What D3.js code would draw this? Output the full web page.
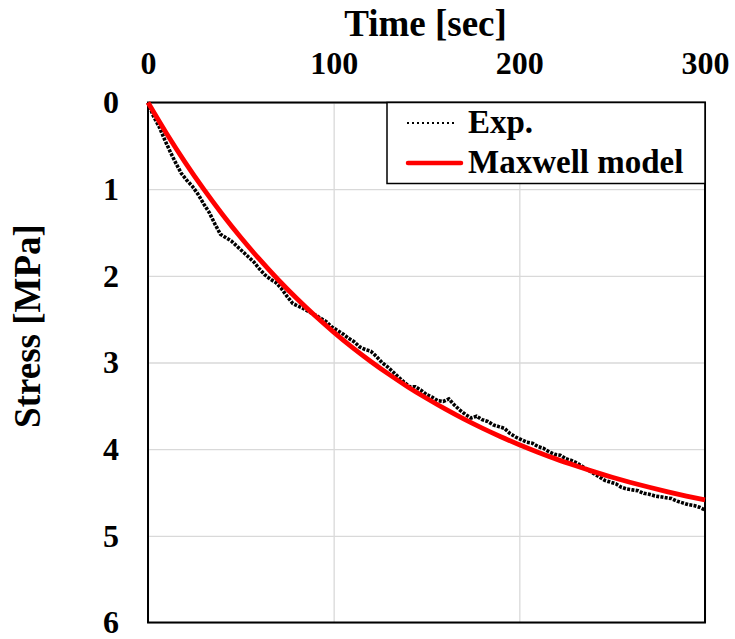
<!DOCTYPE html>
<html>
<head>
<meta charset="utf-8">
<script src="https://cdn.jsdelivr.net/npm/d3@7"></script>
<style>
  body { margin: 0; background: #fff; }
  text { font-family: "Liberation Serif", "Times New Roman", serif; font-weight: bold; fill: #000; }
</style>
</head>
<body>
<svg id="chart"></svg>
<script>
// time [sec] and stress [MPa]
const expTime = [0,3,6,9,12,15,18,21,24,27,30,33,36,39,42,45,48,51,54,57,60,63,66,69,72,75,78,81,84,87,90,
  93,96,99,102,105,108,111,114,117,120,123,126,129,132,135,138,141,144,147,150,153,156,159,162,165,168,171,174,
  177,180,183,186,189,192,195,198,201,204,207,210,213,216,219,222,225,228,231,234,237,240,243,246,249,252,255,
  258,261,264,267,270,273,276,279,282,285,288,291,294,297,300];
const expStress = [0.00,0.16,0.28,0.43,0.57,0.70,0.82,0.90,0.97,1.06,1.17,1.27,1.40,1.52,1.56,1.60,1.66,1.72,1.78,
  1.84,1.92,1.99,2.04,2.08,2.15,2.24,2.32,2.35,2.38,2.42,2.45,2.49,2.53,2.59,2.63,2.67,2.72,2.76,2.82,2.85,2.87,
  2.93,3.00,3.05,3.11,3.17,3.23,3.28,3.28,3.32,3.37,3.40,3.44,3.45,3.42,3.49,3.55,3.60,3.64,3.62,3.66,3.68,3.72,
  3.74,3.76,3.82,3.86,3.89,3.92,3.93,3.97,3.99,4.03,4.06,4.07,4.11,4.13,4.16,4.20,4.24,4.28,4.32,4.36,4.38,4.40,
  4.44,4.46,4.47,4.48,4.51,4.52,4.54,4.55,4.56,4.57,4.60,4.62,4.64,4.65,4.67,4.70];

const modelTime = [0,10,20,30,40,50,60,70,80,90,100,110,120,130,140,150,160,170,180,190,200,210,220,230,240,250,260,270,280,290,300];
const modelStress = [0,0.357,0.690,1.000,1.289,1.558,1.808,2.042,2.259,2.461,2.649,2.825,2.988,3.140,3.282,3.413,
  3.536,3.651,3.757,3.856,3.949,4.035,4.115,4.189,4.259,4.324,4.384,4.440,4.492,4.541,4.586];

const xTicks = [0, 100, 200, 300];
const yTicks = [0, 1, 2, 3, 4, 5, 6];
const seriesNames = ["Exp.", "Maxwell model"];

const width = 735, height = 639;
const plotLeft = 148, plotRight = 705, plotTop = 102.5, plotBottom = 622.5;
const serif = '"Liberation Serif", "Times New Roman", serif';

const svg = d3.select("#chart").attr("width", width).attr("height", height);

const x = d3.scaleLinear().domain([0, 300]).range([plotLeft, plotRight]);
const y = d3.scaleLinear().domain([0, 6]).range([plotTop, plotBottom]);

// gridlines
svg.append("g")
  .attr("transform", `translate(0,${plotBottom})`)
  .call(d3.axisBottom(x).tickValues(xTicks).tickSize(-(plotBottom - plotTop)).tickFormat(""))
  .call(g => g.select(".domain").remove())
  .call(g => g.selectAll("line").attr("stroke", "#d9d9d9").attr("stroke-width", 1.3));

svg.append("g")
  .attr("transform", `translate(${plotLeft},0)`)
  .call(d3.axisLeft(y).tickValues(yTicks).tickSize(-(plotRight - plotLeft)).tickFormat(""))
  .call(g => g.select(".domain").remove())
  .call(g => g.selectAll("line").attr("stroke", "#d9d9d9").attr("stroke-width", 1.3));

// axis labels (top x axis, inverted y axis)
svg.append("g")
  .attr("transform", `translate(0,${plotTop})`)
  .call(d3.axisTop(x).tickValues(xTicks).tickSize(0).tickPadding(29).tickFormat(d3.format("d")))
  .attr("font-family", serif)
  .call(g => g.select(".domain").remove())
  .call(g => g.selectAll("text").style("font-size", "32px").style("font-family", serif));

svg.append("g")
  .attr("transform", `translate(${plotLeft},0)`)
  .call(d3.axisLeft(y).tickValues(yTicks).tickSize(0).tickPadding(29).tickFormat(d3.format("d")))
  .attr("font-family", serif)
  .call(g => g.select(".domain").remove())
  .call(g => g.selectAll("text").style("font-size", "32px").style("font-family", serif));

// plot border
svg.append("rect")
  .attr("x", plotLeft).attr("y", plotTop)
  .attr("width", plotRight - plotLeft).attr("height", plotBottom - plotTop)
  .attr("fill", "none").attr("stroke", "#000").attr("stroke-width", 2);

const expData = expTime.map((t, i) => [t, expStress[i]]);
const modelData = modelTime.map((t, i) => [t, modelStress[i]]);

svg.append("path")
  .datum(expData)
  .attr("d", d3.line().x(d => x(d[0])).y(d => y(d[1])))
  .attr("fill", "none")
  .attr("stroke", "#000")
  .attr("stroke-width", 3.6)
  .attr("stroke-dasharray", "3,1.3");

svg.append("path")
  .datum(modelData)
  .attr("d", d3.line().x(d => x(d[0])).y(d => y(d[1])).curve(d3.curveMonotoneX))
  .attr("fill", "none")
  .attr("stroke", "#ff0000")
  .attr("stroke-width", 4.8);

// axis titles
svg.append("text")
  .attr("x", (plotLeft + plotRight) / 2 - 1).attr("y", 36)
  .attr("text-anchor", "middle")
  .style("font-size", "37px")
  .text("Time [sec]");

svg.append("text")
  .attr("transform", "translate(40,326) rotate(-90)")
  .attr("text-anchor", "middle")
  .style("font-size", "37px")
  .text("Stress [MPa]");

// legend
const legend = svg.append("g");
legend.append("rect")
  .attr("x", 387).attr("y", plotTop)
  .attr("width", plotRight - 387).attr("height", 81)
  .attr("fill", "#fff").attr("stroke", "#000").attr("stroke-width", 1.5);

legend.append("line")
  .attr("x1", 407).attr("x2", 457).attr("y1", 123).attr("y2", 123)
  .attr("stroke", "#000").attr("stroke-width", 2).attr("stroke-dasharray", "2,3");
legend.append("line")
  .attr("x1", 408).attr("x2", 461).attr("y1", 163).attr("y2", 163)
  .attr("stroke", "#ff0000").attr("stroke-width", 4.5).attr("stroke-linecap", "round");

legend.selectAll("text.lg")
  .data(seriesNames)
  .enter().append("text")
  .attr("class", "lg")
  .attr("x", 468)
  .attr("y", (d, i) => 133 + i * 40)
  .style("font-size", "33px")
  .text(d => d);
</script>
</body>
</html>
